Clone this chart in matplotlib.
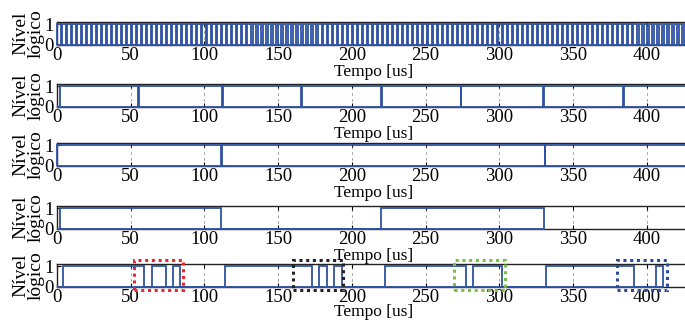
import numpy as np
import matplotlib.pyplot as plt
from matplotlib.patches import Rectangle

plt.rcParams['font.family'] = ['Liberation Serif', 'DejaVu Serif']
plt.rcParams['font.size'] = 12

# painel 1: relogio (periodo e tempo em nivel alto) [us]
clk_start = 0.0
clk_period = 3.4
clk_high = 2.6

# paineis 2..5: pulsos como (subida, descida) [us]
pulses_2 = [(2, 54.7), (55.3, 111.7), (112.3, 165.7), (166.3, 219.7),
            (220.3, 273.7), (274.3, 329.7), (330.3, 384.2), (384.8, 440)]
pulses_3 = [(0, 111.4), (111.9, 330.8), (331.3, 440)]
pulses_4 = [(2, 111.5), (220, 330)]
pulses_5 = [(4.2, 59), (64.2, 74), (78.8, 83.7),
            (114, 173), (178, 183.4), (188, 193.2),
            (222.4, 277.3), (282.3, 302),
            (331.5, 391.2), (406, 411)]

# caixas de destaque no painel 5: (inicio, fim) [us] e cor
box_spans = [(52, 85.5), (160, 194), (269, 304), (380, 413.5)]
box_colors = ['#e8262b', '#222222', '#77c043', '#2a4b9b']

xticks = [0, 50, 100, 150, 200, 250, 300, 350, 400]
t_end = 430

blue = '#2f52a4'


def steps(pulses):
    t = [0.0]
    y = [0.0]
    for a, b in pulses:
        t += [a, a, b, b]
        y += [0, 1, 1, 0]
    return np.array(t), np.array(y)


starts = np.arange(clk_start, t_end + clk_period, clk_period)
pulses_1 = [(s, s + clk_high) for s in starts]

signals = [pulses_1, pulses_2, pulses_3, pulses_4, pulses_5]

W, H = 685, 320
fig = plt.figure(figsize=(W / 100, H / 100), dpi=100)

tops = [22, 84, 143, 206, 264]
ax_h = 22.5
left = 57
right = 691

axes = []
for i, (top, pulses) in enumerate(zip(tops, signals)):
    ax = fig.add_axes([left / W, 1 - (top + ax_h) / H, (right - left) / W, ax_h / H])
    t, y = steps(pulses)
    ax.fill(t, y, facecolor='none', edgecolor=blue, lw=1.3, clip_on=False, zorder=3)
    ax.set_xlim(0, t_end)
    ax.set_ylim(0, 1.1)
    ax.set_xticks(xticks)
    ax.set_yticks([0, 1])
    ax.tick_params(direction='in', top=True, right=True, length=3, width=0.8,
                   pad=2, labelsize=13.5)
    ax.tick_params(axis='y', pad=2.5)
    ax.grid(axis='x', color='0.55', lw=0.6, linestyle=(0, (3, 4)))
    for s in ax.spines.values():
        s.set_linewidth(1.0)
        s.set_color('#222222')
    # o ultimo rotulo fica colado na borda inferior
    pad = -2 if i == len(signals) - 1 else 0
    ax.set_xlabel('Tempo [us]', fontsize=12.5, labelpad=pad)
    ax.set_ylabel('Nível\nlógico', fontsize=14, labelpad=0, linespacing=0.8)
    axes.append(ax)

ax5 = axes[-1]
for (a, b), c in zip(box_spans, box_colors):
    ax5.add_patch(Rectangle((a, -0.18), b - a, 1.46, fill=False, edgecolor=c,
                            lw=2.2, linestyle=(0, (1, 1.2)), clip_on=False, zorder=4))

fig.savefig('out.png', dpi=100)
